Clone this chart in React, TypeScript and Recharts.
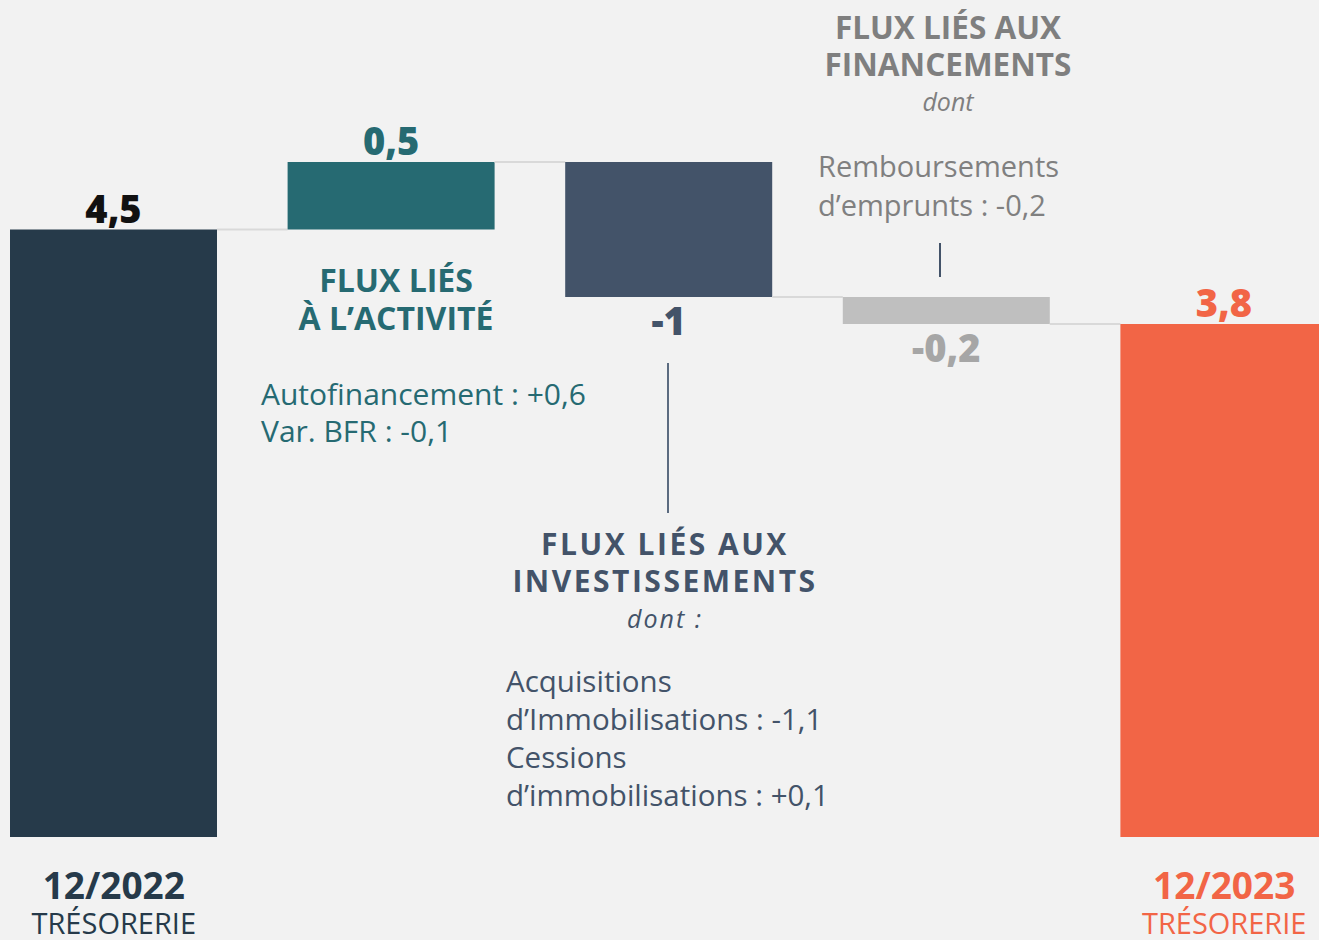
import React from "react";
import { BarChart, Bar, XAxis, YAxis } from "recharts";

// catégories du waterfall de trésorerie (en M€)
const categories = ["12/2022", "Activité", "Investissements", "Financements", "12/2023"];
const values = [4.5, 0.5, -1, -0.2, 3.8];
const isTotal = [true, false, false, false, true];
const valueLabels = ["4,5", "0,5", "-1", "-0,2", "3,8"];
const tickSubtitles = ["TRÉSORERIE", "", "", "", "TRÉSORERIE"];

const COLORS = ["#263a4a", "#266a72", "#435369", "#bfbfbf", "#f26546"];
const LABEL_COLORS = ["#111111", "#266a72", "#435369", "#a6a6a6", "#f26546"];
const FONT = "'Open Sans', 'Noto Sans', sans-serif";

const CHART_W = 1388;
const CHART_H = 940;
const BAND = CHART_W / categories.length;

let running = 0;
const data = categories.map((name, i) => {
  const v = values[i];
  if (isTotal[i]) {
    running = v;
    return { name, idx: i, base: 0, delta: v, up: true };
  }
  const start = running;
  const end = running + v;
  running = end;
  return { name, idx: i, base: Math.min(start, end), delta: Math.abs(v), up: v >= 0 };
});

const WaterfallBar = (props: any) => {
  const { x, y, width, height, payload } = props;
  const i = payload.idx;
  const endY = payload.up ? y : y + height;
  const labelAbove = payload.up;
  return (
    <g>
      <rect x={x} y={y} width={width} height={height} fill={COLORS[i]} />
      {i < categories.length - 1 && (
        <line
          x1={x + width}
          x2={x + BAND}
          y1={endY}
          y2={endY}
          stroke="#d9d9d9"
          strokeWidth={2}
        />
      )}
      <text
        x={x + width / 2}
        y={labelAbove ? y - 22 : y + height + 23}
        textAnchor="middle"
        dominantBaseline="central"
        fontFamily={FONT}
        fontWeight={800}
        fontSize={38}
        fill={LABEL_COLORS[i]}
      >
        {valueLabels[i]}
      </text>
    </g>
  );
};

const BottomTick = (props: any) => {
  const { x, y, payload, index } = props;
  if (!tickSubtitles[index]) return null;
  const color = COLORS[index];
  return (
    <g>
      <text x={x} y={y + 39} textAnchor="middle" dominantBaseline="central"
        fontFamily={FONT} fontWeight={700} fontSize={37} fill={color}>
        {payload.value}
      </text>
      <text x={x} y={y + 77} textAnchor="middle" dominantBaseline="central"
        fontFamily={FONT} fontSize={29} fill={color}>
        {tickSubtitles[index]}
      </text>
    </g>
  );
};

const abs = (s: React.CSSProperties): React.CSSProperties => ({
  position: "absolute",
  fontFamily: FONT,
  whiteSpace: "nowrap",
  margin: 0,
  ...s,
});

export default function App() {
  return (
    <div style={{ position: "fixed", left: 0, top: 0, width: 1319, height: 940, overflow: "hidden", background: "#f2f2f2" }}>
      <div style={{ position: "absolute", left: -25, top: 0 }}>
        <BarChart
          width={CHART_W}
          height={CHART_H}
          data={data}
          margin={{ top: 0, right: 0, left: 0, bottom: 0 }}
          barSize={207}
        >
          <XAxis
            dataKey="name"
            height={103}
            axisLine={false}
            tickLine={false}
            interval={0}
            tick={<BottomTick />}
          />
          <YAxis hide domain={[0, 6.2]} />
          <Bar dataKey="base" stackId="w" fill="transparent" isAnimationActive={false} />
          <Bar dataKey="delta" stackId="w" shape={<WaterfallBar />} isAnimationActive={false} />
        </BarChart>
      </div>

      {/* Flux liés à l'activité */}
      <div style={abs({ left: 246, width: 300, top: 261, textAlign: "center", fontWeight: 700, fontSize: 32, lineHeight: "38px", color: "#266a72" })}>
        FLUX LIÉS<br />À L’ACTIVITÉ
      </div>
      <div style={abs({ left: 261, top: 375, fontSize: 30, lineHeight: "37px", color: "#266a72" })}>
        Autofinancement : +0,6<br />Var. BFR : -0,1
      </div>

      {/* Flux liés aux investissements */}
      <div style={{ position: "absolute", left: 667, top: 363, width: 2, height: 150, background: "#5b6b80" }} />
      <div style={abs({ left: 465, width: 400, top: 525, textAlign: "center", fontWeight: 700, fontSize: 30, lineHeight: "37px", letterSpacing: 2.5, color: "#435369" })}>
        FLUX LIÉS AUX<br />INVESTISSEMENTS
      </div>
      <div style={abs({ left: 465, width: 400, top: 601, textAlign: "center", fontStyle: "italic", fontSize: 25, lineHeight: "34px", letterSpacing: 2, color: "#435369" })}>
        dont :
      </div>
      <div style={abs({ left: 506, top: 662, fontSize: 29.5, lineHeight: "38px", color: "#435369" })}>
        Acquisitions<br />d’Immobilisations : -1,1<br />Cessions<br />d’immobilisations : +0,1
      </div>

      {/* Flux liés aux financements */}
      <div style={abs({ left: 748, width: 400, top: 8, textAlign: "center", fontWeight: 700, fontSize: 31.5, lineHeight: "37px", color: "#7f7f7f" })}>
        FLUX LIÉS AUX<br />FINANCEMENTS
      </div>
      <div style={abs({ left: 748, width: 400, top: 84, textAlign: "center", fontStyle: "italic", fontSize: 25, lineHeight: "34px", color: "#7f7f7f" })}>
        dont
      </div>
      <div style={abs({ left: 818, top: 146, fontSize: 29, lineHeight: "39px", color: "#808080" })}>
        Remboursements<br />d’emprunts : -0,2
      </div>
      <div style={{ position: "absolute", left: 939, top: 243, width: 1.5, height: 34, background: "#435369" }} />
    </div>
  );
}
